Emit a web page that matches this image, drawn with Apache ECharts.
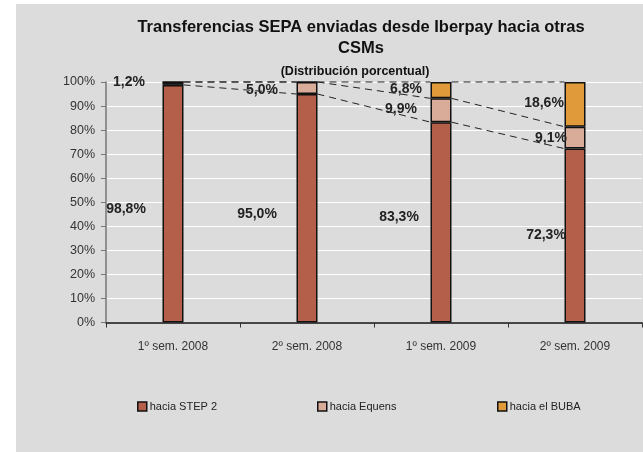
<!DOCTYPE html>
<html><head><meta charset="utf-8">
<script src="https://cdn.jsdelivr.net/npm/echarts@6/dist/echarts.min.js"></script>
<style>html,body{margin:0;padding:0;background:#fff}#c{width:643px;height:452px}</style>
</head><body><div id="c"></div>
<script>
const categories = ['1º sem. 2008', '2º sem. 2008', '1º sem. 2009', '2º sem. 2009'];
const step2 = [98.8, 95.0, 83.3, 72.3];
const equens = [1.2, 5.0, 9.9, 9.1];
const buba = [0, 0, 6.8, 18.6];
const seriesNames = ['hacia STEP 2', 'hacia Equens', 'hacia el BUBA'];
const yTicks = [0, 10, 20, 30, 40, 50, 60, 70, 80, 90, 100];

// label offsets (layout only)
const offStep2 = [[-47, 5], [-50, 6], [-42, -5], [-29, 0]];
const offEquens = [[-44, -1], [-45, 2], [-40, -1], [-24, 0]];
const offBuba = [[0, 0], [0, 0], [-35, -1], [-31, -1]];

const colors = ['#b35f49', '#d9ab99', '#e09a3a'];
const BAR_W = 21;
const FONT = '"Liberation Sans", Arial, Helvetica, sans-serif';

const chart = echarts.init(document.getElementById('c'), null, {renderer: 'canvas'});

function fmt(v) { return v.toFixed(1).replace('.', ',') + '%'; }

function barSeries(name, vals, color, offs) {
  return {
    name: name, type: 'bar', stack: 'total', barWidth: BAR_W,
    itemStyle: {color: color, borderColor: '#111', borderWidth: 1.5},
    data: vals.map((v, i) => ({
      value: v,
      label: {show: v > 0, position: 'inside', offset: offs[i],
        formatter: () => fmt(v), fontFamily: FONT, fontWeight: 'bold', fontSize: 14, color: '#222'}
    })),
    z: 3
  };
}

// cumulative tops of each series
const cumStep2 = step2.slice();
const cumEquens = step2.map((v, i) => v + equens[i]);
const cumBuba = cumEquens.map((v, i) => v + buba[i]);
const segData = [];
[cumStep2, cumEquens, cumBuba].forEach(arr => {
  for (let i = 0; i < arr.length - 1; i++) segData.push([i, arr[i], arr[i + 1]]);
});

const legendLefts = [137, 317, 497];

chart.setOption({
  animation: false,
  backgroundColor: '#ffffff',
  graphic: [{type: 'rect', left: 16, top: 4, shape: {width: 627, height: 448}, style: {fill: '#dcdcdc'}, z: -10, silent: true}],
  title: [
    {text: 'Transferencias SEPA enviadas desde Iberpay hacia otras\nCSMs', left: 356, top: 12, textAlign: 'center',
     textStyle: {fontFamily: FONT, fontWeight: 'bold', fontSize: 16.5, color: '#111', lineHeight: 21}},
    {text: '(Distribución porcentual)', left: 350, top: 60, textAlign: 'center',
     textStyle: {fontFamily: FONT, fontWeight: 'bold', fontSize: 12.5, color: '#111'}}
  ],
  legend: seriesNames.map((n, i) => ({
    data: [n], left: legendLefts[i], top: 401, padding: 0, itemWidth: 9, itemHeight: 9, itemGap: 4,
    icon: 'rect',
    itemStyle: {borderColor: '#111', borderWidth: 1.5},
    textStyle: {fontFamily: FONT, fontSize: 11, color: '#222', padding: [0, 0, 0, -2]}
  })),
  grid: {left: 106, right: 1, top: 82, bottom: 129.5},
  xAxis: {
    type: 'category', data: categories,
    axisLine: {lineStyle: {color: '#111', width: 1.5}},
    axisTick: {show: true, length: 5, alignWithLabel: false, lineStyle: {color: '#333'}},
    axisLabel: {fontFamily: FONT, fontSize: 12, color: '#333', margin: 18}
  },
  yAxis: {
    type: 'value', min: yTicks[0], max: yTicks[yTicks.length - 1], interval: 10,
    axisLine: {show: true, lineStyle: {color: '#777', width: 1.5}},
    axisTick: {show: true, length: 5, lineStyle: {color: '#777'}},
    axisLabel: {fontFamily: FONT, fontSize: 12.5, color: '#333', margin: 11, formatter: '{value}%'},
    splitLine: {lineStyle: {color: '#ffffff', width: 1.2}}
  },
  series: [
    barSeries(seriesNames[0], step2, colors[0], offStep2),
    barSeries(seriesNames[1], equens, colors[1], offEquens),
    barSeries(seriesNames[2], buba, colors[2], offBuba),
    {
      type: 'custom', silent: true, z: 2,
      data: segData,
      encode: {x: 0, y: [1, 2]},
      renderItem: function (params, api) {
        const i = api.value(0);
        const p0 = api.coord([i, api.value(1)]);
        const p1 = api.coord([i + 1, api.value(2)]);
        const h = BAR_W / 2;
        return {type: 'line', shape: {x1: p0[0] + h, y1: p0[1], x2: p1[0] - h, y2: p1[1]},
          style: {stroke: '#222', lineWidth: 1, lineDash: [7, 5]}};
      }
    }
  ]
});
</script></body></html>
